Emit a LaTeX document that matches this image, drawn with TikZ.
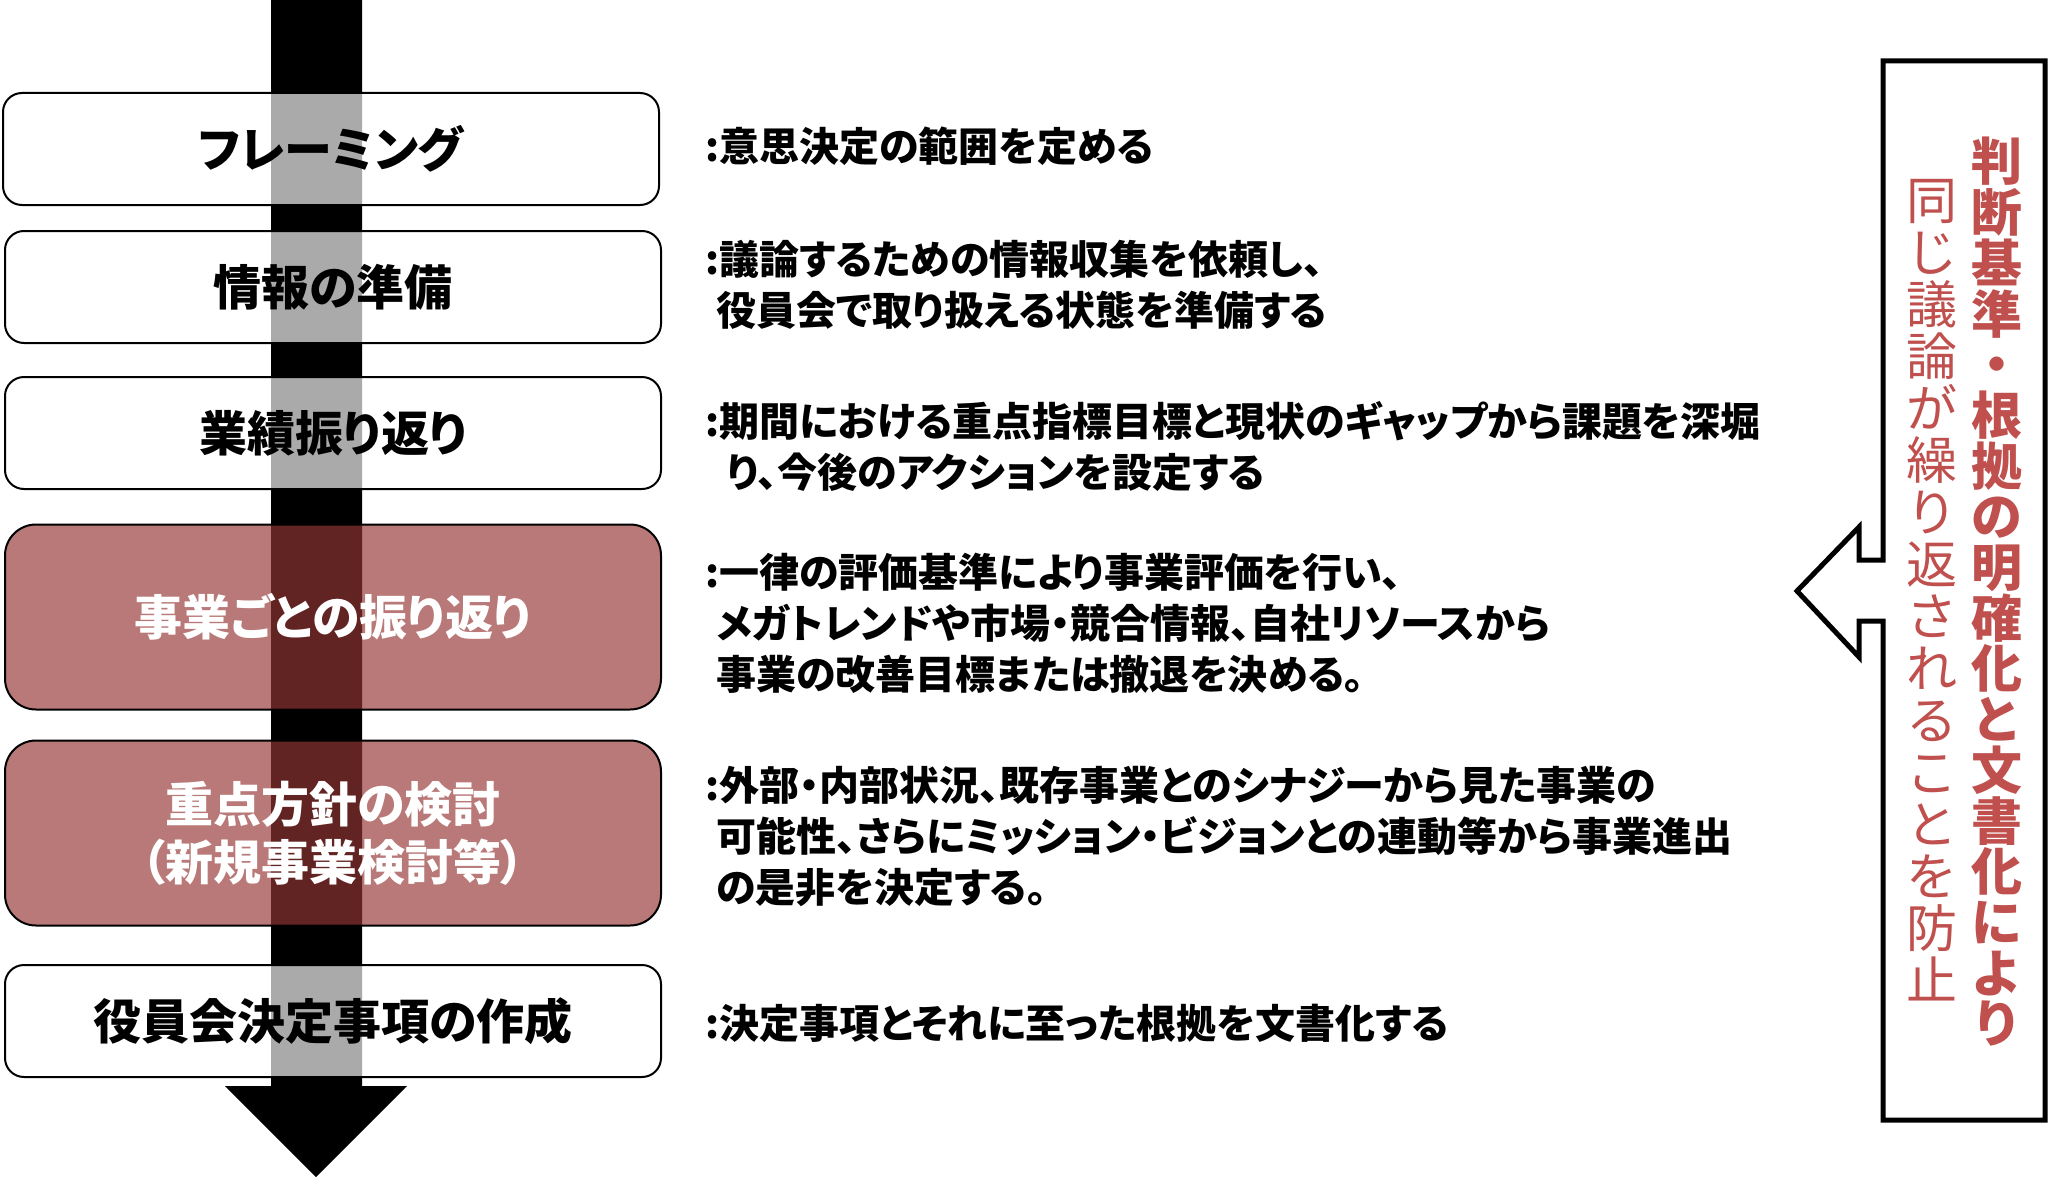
\documentclass[tikz,border=0pt]{standalone}
\usepackage{fontspec}
\setmainfont{Noto Sans CJK JP}[RawFeature=+palt]
\newfontfamily\vertfont{Noto Sans CJK JP}
\definecolor{boxred}{HTML}{943634}
\definecolor{txtred}{HTML}{C0504D}
\tikzset{
  stage/.style={draw=black, line width=1pt, fill=white, fill opacity=0.667, text opacity=1,
    rounded corners=9.5pt, minimum width=328pt, minimum height=56pt, align=center,
    font=\fontsize{24pt}{29pt}\selectfont\bfseries, inner sep=0pt},
  keystage/.style={stage, fill=boxred, text=white, rounded corners=15.5pt, minimum height=92.5pt},
  desc/.style={anchor=west, align=left, inner sep=0pt, font=\fontsize{20pt}{25.5pt}\selectfont\bfseries},
  coltext/.style={text=txtred, align=center, inner sep=0pt},
  flow/.style={fill=black},
  callout/.style={draw=black, line width=2.5pt, fill=white, line join=miter}
}
\begin{document}
\begin{tikzpicture}[x=0.5pt,y=-0.5pt]
\useasboundingbox (0,0) rectangle (2048,1177);
% main flow arrow
\fill[flow] (271,-5) -- (362,-5) -- (362,1086) -- (407,1086) -- (316,1177) -- (225,1086) -- (271,1086) -- cycle;
% stages
\node[stage] (b1) at (331,149) {フレーミング};
\node[stage] (b2) at (333,287) {情報の準備};
\node[stage] (b3) at (333,433) {業績振り返り};
\node[keystage] (b4) at (333,617) {事業ごとの振り返り};
\node[keystage] (b5) at (333,833) {重点方針の検討\\（新規事業検討等）};
\node[stage] (b6) at (333,1021) {役員会決定事項の作成};
% descriptions
\node[desc] (d1) at (705,146) {:意思決定の範囲を定める};
\node[desc] (d2) at (705,285) {:議論するための情報収集を依頼し、\\\hspace*{5.5pt}役員会で取り扱える状態を準備する};
\node[desc] (d3) at (705,446) {:期間における重点指標目標と現状のギャップから課題を深堀\\\hspace*{11pt}り、今後のアクションを設定する};
\node[desc] (d4) at (705,623) {:一律の評価基準により事業評価を行い、\\\hspace*{5.5pt}メガトレンドや市場・競合情報、自社リソースから\\\hspace*{5.5pt}事業の改善目標または撤退を決める。};
\node[desc] (d5) at (705,837) {:外部・内部状況、既存事業とのシナジーから見た事業の\\\hspace*{5.5pt}可能性、さらにミッション・ビジョンとの連動等から事業進出\\\hspace*{5.5pt}の是非を決定する。};
\node[desc] (d6) at (705,1023) {:決定事項とそれに至った根拠を文書化する};
% callout panel
\draw[callout] (1883,61) -- (2045,61) -- (2045,1120) -- (1883,1120) -- (1883,621) -- (1859,621)
  -- (1859,657) -- (1797,591) -- (1859,527) -- (1859,560) -- (1883,560) -- cycle;
\node[coltext, font=\vertfont\fontsize{25.5pt}{25.35pt}\selectfont\bfseries] (c1) at (1997,592)
  {判\\断\\基\\準\\・\\根\\拠\\の\\明\\確\\化\\と\\文\\書\\化\\に\\よ\\り};
\node[coltext, font=\vertfont\fontsize{25.5pt}{26pt}\selectfont] (c2) at (1932,590)
  {同\\じ\\議\\論\\が\\繰\\り\\返\\さ\\れ\\る\\こ\\と\\を\\防\\止};
\end{tikzpicture}
\end{document}
